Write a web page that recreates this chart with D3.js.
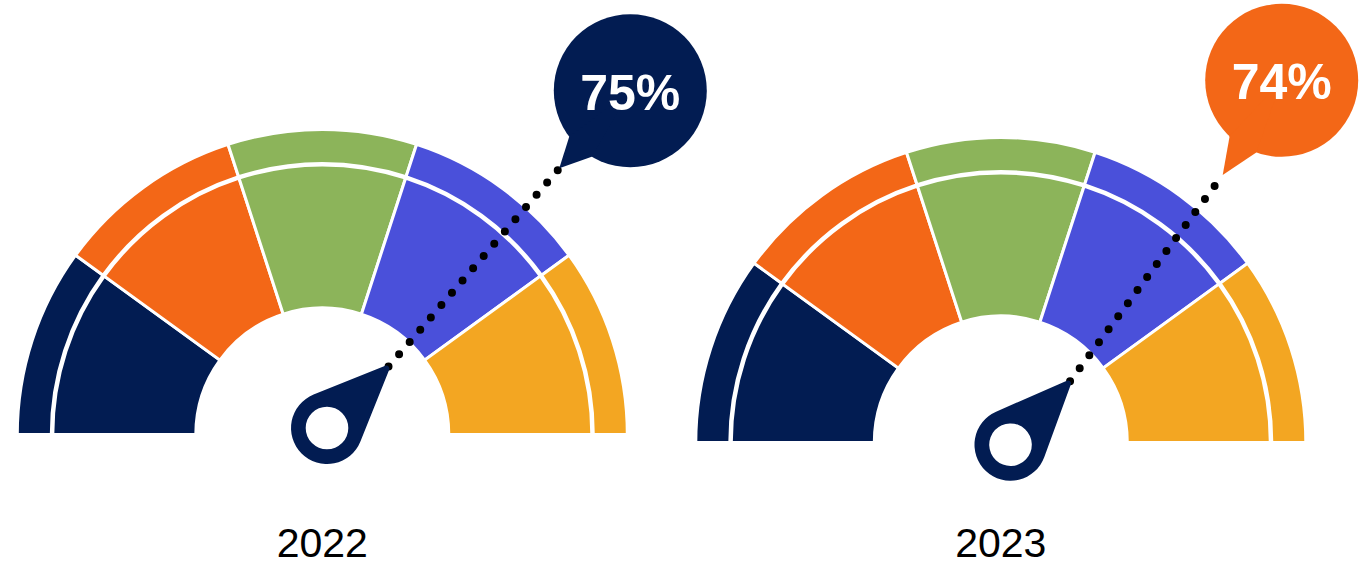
<!DOCTYPE html>
<html>
<head>
<meta charset="utf-8">
<script src="https://cdn.jsdelivr.net/npm/d3@7"></script>
<style>
  html, body { margin: 0; padding: 0; background: #ffffff; }
  svg { display: block; }
  text { font-family: "Liberation Sans", Arial, sans-serif; }
</style>
</head>
<body>
<svg id="chart" width="1365" height="569"></svg>
<script>
// Gauge data
const years = ["2022", "2023"];
const scores = [75, 74];                 // percent shown in the bubbles
const bandBreaks = [0, 20, 40, 60, 80, 100];
const bandColors = ["#021C52", "#F36717", "#8CB45A", "#4A50DA", "#F3A622"];
const bubbleColors = ["#021C52", "#F36717"];

// Placement of each gauge on the page
const layout = [
  { cx: 322.3, cy: 434.5, pivot: [327, 428],    bubble: [630.3, 90.7],  tailA: 143,   tailB: 120.3, tailTip: [559.3, 168.3], labelY: 93 },
  { cx: 1000.8, cy: 442.5, pivot: [1010.5, 444.7], bubble: [1281.7, 80.3], tailA: 132.9, tailB: 109.4, tailTip: [1222.7, 175], labelY: 82 }
];

const svg = d3.select("#chart");

// value (0..100) -> angle in d3.arc convention (radians, clockwise from 12 o'clock)
const angle = d3.scaleLinear().domain([0, 100]).range([-Math.PI / 2, Math.PI / 2]);

const R_HOLE = 126.5, R_IN_OUT = 269.5, R_OUT_IN = 271, R_OUT = 305;
const innerArc = d3.arc().innerRadius(R_HOLE).outerRadius(R_IN_OUT);
const outerArc = d3.arc().innerRadius(R_OUT_IN).outerRadius(R_OUT);

const bands = bandColors.map((c, i) => ({
  startAngle: angle(bandBreaks[i]),
  endAngle: angle(bandBreaks[i + 1]),
  color: c
}));

// needle: teardrop with a ring at the pivot
function needlePath(L, R, rTip, rHole) {
  const d = L - rTip;
  const th = Math.acos((R - rTip) / d);
  const c = Math.cos(th), s = Math.sin(th);
  return [
    `M${R * c},${-R * s}`,
    `L${d + rTip * c},${-rTip * s}`,
    `A${rTip},${rTip} 0 0 1 ${d + rTip * c},${rTip * s}`,
    `L${R * c},${R * s}`,
    `A${R},${R} 0 1 1 ${R * c},${-R * s}`,
    "Z",
    `M${rHole},0`,
    `A${rHole},${rHole} 0 1 0 ${-rHole},0`,
    `A${rHole},${rHole} 0 1 0 ${rHole},0`,
    "Z"
  ].join(" ");
}

const NEEDLE_LEN = 87;

years.forEach((year, gi) => {
  const L = layout[gi];
  const g = svg.append("g");

  // coloured bands
  const gauge = g.append("g").attr("transform", `translate(${L.cx},${L.cy})`);
  gauge.selectAll("path.inner").data(bands).join("path")
    .attr("class", "inner")
    .attr("d", innerArc)
    .attr("fill", d => d.color)
    .attr("stroke", "#fff").attr("stroke-width", 3).attr("stroke-linejoin", "miter");
  gauge.selectAll("path.outer").data(bands).join("path")
    .attr("class", "outer")
    .attr("d", outerArc)
    .attr("fill", d => d.color)
    .attr("stroke", "#fff").attr("stroke-width", 3).attr("stroke-linejoin", "miter");

  // needle direction from the score
  const a = angle(scores[gi]);               // clockwise from 12 o'clock
  const dirX = Math.sin(a), dirY = -Math.cos(a);
  const tip = [L.pivot[0] + NEEDLE_LEN * dirX, L.pivot[1] + NEEDLE_LEN * dirY];

  // dotted leader from the needle tip to the bubble
  g.append("line")
    .attr("x1", tip[0]).attr("y1", tip[1])
    .attr("x2", L.tailTip[0]).attr("y2", L.tailTip[1])
    .attr("stroke", "#000")
    .attr("stroke-width", 8)
    .attr("stroke-linecap", "round")
    .attr("stroke-dasharray", "0 16.2");

  const rotDeg = a * 180 / Math.PI - 90;
  g.append("path")
    .attr("transform", `translate(${L.pivot[0]},${L.pivot[1]}) rotate(${rotDeg})`)
    .attr("d", needlePath(NEEDLE_LEN, 36, 3, 21.3))
    .attr("fill", bandColors[0])
    .attr("fill-rule", "evenodd");

  // speech bubble with the score
  const BR = 76.5;
  const [bx, by] = L.bubble;
  const pA = [bx + BR * Math.cos(L.tailA * Math.PI / 180), by + BR * Math.sin(L.tailA * Math.PI / 180)];
  const pB = [bx + BR * Math.cos(L.tailB * Math.PI / 180), by + BR * Math.sin(L.tailB * Math.PI / 180)];
  g.append("circle").attr("cx", bx).attr("cy", by).attr("r", BR).attr("fill", bubbleColors[gi]);
  g.append("path")
    .attr("d", `M${bx},${by} L${pA[0]},${pA[1]} L${L.tailTip[0]},${L.tailTip[1]} L${pB[0]},${pB[1]} Z`)
    .attr("fill", bubbleColors[gi]);
  g.append("text")
    .attr("x", bx).attr("y", L.labelY)
    .attr("text-anchor", "middle")
    .attr("dominant-baseline", "central")
    .attr("fill", "#fff")
    .attr("font-weight", "bold")
    .attr("font-size", 50)
    .text(scores[gi] + "%");

  // year label
  g.append("text")
    .attr("x", L.cx).attr("y", 557)
    .attr("text-anchor", "middle")
    .attr("fill", "#000")
    .attr("font-size", 41)
    .text(year);
});
</script>
</body>
</html>
